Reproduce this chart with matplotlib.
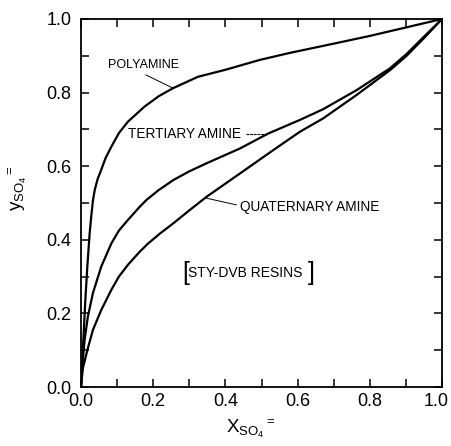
import matplotlib
matplotlib.use("Agg")
import matplotlib.pyplot as plt
import matplotlib.transforms as mtransforms
from matplotlib.ticker import MultipleLocator, FormatStrFormatter

# Sulfate equilibrium curves: liquid-phase fraction x vs resin-phase fraction y
poly_x = [0.0, 0.0035, 0.0075, 0.012, 0.0175, 0.024, 0.0285, 0.0332, 0.038, 0.046,
          0.056, 0.068, 0.084, 0.105, 0.13, 0.176, 0.215, 0.255, 0.324, 0.40,
          0.496, 0.579, 0.70, 0.80, 0.90, 1.0]
poly_y = [0.0, 0.07, 0.146, 0.236, 0.327, 0.418, 0.465, 0.508, 0.535, 0.565,
          0.59, 0.622, 0.653, 0.69, 0.721, 0.762, 0.79, 0.812, 0.843, 0.862,
          0.889, 0.908, 0.933, 0.954, 0.977, 1.0]

tert_x = [0.0, 0.004, 0.010, 0.019, 0.033, 0.056, 0.084, 0.105, 0.130, 0.163,
          0.181, 0.215, 0.256, 0.30, 0.348, 0.44, 0.519, 0.607, 0.671, 0.764,
          0.856, 0.902, 0.95, 1.0]
tert_y = [0.0, 0.06, 0.128, 0.191, 0.255, 0.327, 0.390, 0.425, 0.454, 0.49,
          0.508, 0.535, 0.5625, 0.586, 0.608, 0.648, 0.689, 0.726, 0.755, 0.807,
          0.866, 0.905, 0.952, 1.0]

quat_x = [0.0, 0.005, 0.0175, 0.033, 0.056, 0.084, 0.105, 0.130, 0.163, 0.186,
          0.22, 0.256, 0.30, 0.348, 0.44, 0.533, 0.607, 0.671, 0.764, 0.856,
          0.902, 0.95, 1.0]
quat_y = [0.0, 0.05, 0.10, 0.155, 0.209, 0.264, 0.30, 0.332, 0.368, 0.39,
          0.418, 0.445, 0.48, 0.517, 0.58, 0.644, 0.694, 0.73, 0.794, 0.861,
          0.90, 0.948, 1.0]

major_ticks = [0.0, 0.2, 0.4, 0.6, 0.8, 1.0]

plt.rcParams['font.family'] = ['Liberation Sans', 'DejaVu Sans']
plt.rcParams['mathtext.fontset'] = 'custom'
plt.rcParams['mathtext.rm'] = 'Liberation Sans'
plt.rcParams['mathtext.it'] = 'Liberation Sans'

fig = plt.figure(figsize=(4.52, 4.46), dpi=100)
ax = fig.add_axes([81 / 452, 1 - 387 / 446, 361 / 452, 368 / 446])

lw = 1.6
for xs, ys in ((poly_x, poly_y), (tert_x, tert_y), (quat_x, quat_y)):
    ax.plot(xs, ys, color='black', lw=lw, solid_joinstyle='round',
            solid_capstyle='round')

ax.set_xlim(0, 1)
ax.set_ylim(0, 1)
ax.set_xticks(major_ticks)
ax.set_yticks(major_ticks)
ax.xaxis.set_minor_locator(MultipleLocator(0.1))
ax.yaxis.set_minor_locator(MultipleLocator(0.1))
ax.xaxis.set_major_formatter(FormatStrFormatter('%.1f'))
ax.yaxis.set_major_formatter(FormatStrFormatter('%.1f'))
for which in ('major', 'minor'):
    ax.tick_params(axis='both', which=which, direction='in', length=5.5,
                   width=1.1, top=True, right=True, labelsize=13)
ax.tick_params(axis='x', which='major', pad=4)
ax.tick_params(axis='y', which='major', pad=7)
for s in ax.spines.values():
    s.set_linewidth(1.3)

ax.set_xlabel(r'$\mathregular{X_{SO_4}{}^{=}}$', fontsize=13.5)
ax.set_ylabel(r'$\mathregular{y_{SO_4}{}^{=}}$', fontsize=13.5)
ax.xaxis.set_label_coords(0.47, -0.083)
ax.yaxis.set_label_coords(-0.145, 0.54)

lab = dict(color='black')
ax.text(0.075, 0.875, 'POLYAMINE', ha='left', va='center', fontsize=9, **lab)
ax.plot([0.18, 0.255], [0.848, 0.812], color='black', lw=0.7)
ax.text(0.13, 0.687, 'TERTIARY AMINE', ha='left', va='center', fontsize=9.8, **lab)
ax.plot([0.457, 0.518], [0.688, 0.688], color='black', lw=0.8, ls=(0, (2.5, 0.8)))
ax.text(0.44, 0.49, 'QUATERNARY AMINE', ha='left', va='center', fontsize=9.8, **lab)
ax.plot([0.43, 0.348], [0.495, 0.513], color='black', lw=0.7)

# bracketed resin annotation
ax.text(0.289, 0.31, '[', ha='center', va='center', fontsize=18,
        fontweight='light', **lab)
ax.text(0.455, 0.31, 'STY-DVB RESINS', ha='center', va='center', fontsize=10, **lab)
ax.text(0.637, 0.31, ']', ha='center', va='center', fontsize=18,
        fontweight='light', **lab)

# keep the right-most x tick label inside the canvas
fig.canvas.draw()
last = ax.xaxis.get_major_ticks()[-1].label1
last.set_transform(last.get_transform() +
                   mtransforms.ScaledTranslation(-4 / 72, 0, fig.dpi_scale_trans))

fig.savefig('out.png', dpi=100)
